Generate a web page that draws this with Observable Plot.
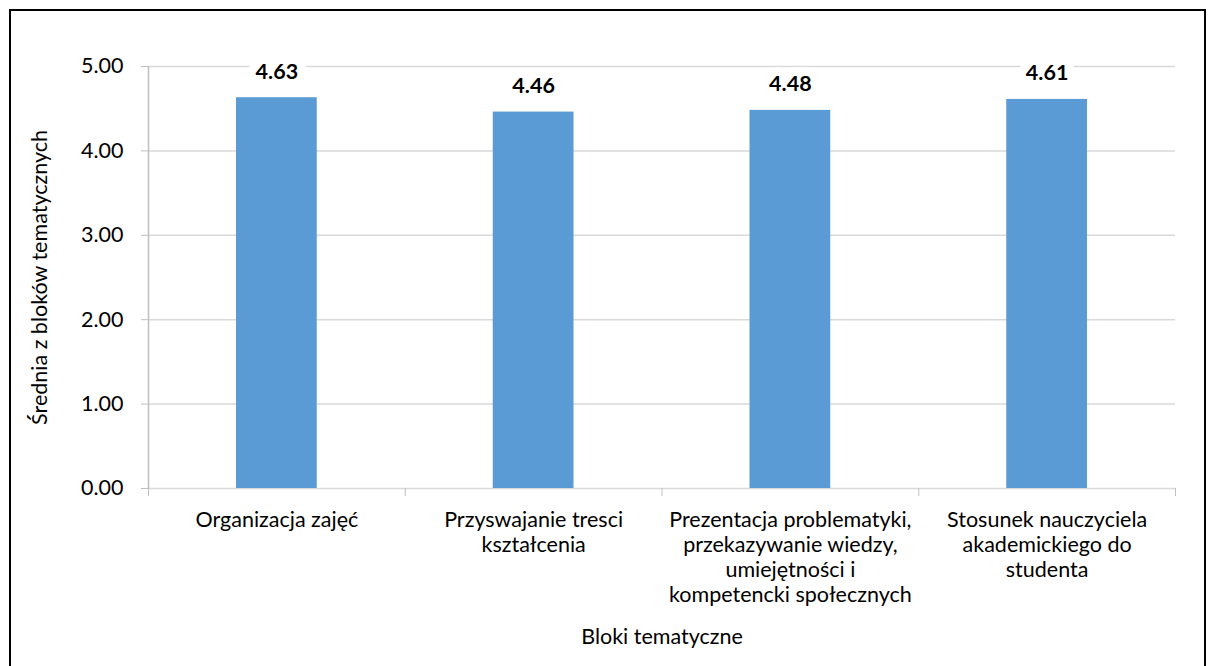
<!DOCTYPE html>
<html>
<head>
<meta charset="utf-8">
<script src="https://cdn.jsdelivr.net/npm/d3@7"></script>
<script src="https://cdn.jsdelivr.net/npm/@observablehq/plot@0.6"></script>
<style>
  html, body { margin: 0; padding: 0; background: #fff; }
  #wrap { position: relative; width: 1209px; height: 666px; overflow: hidden; }
  #frame { position: absolute; left: 9px; top: 9px; width: 1197px; height: 680px; border: 2px solid #000; box-sizing: border-box; }
  #chart { position: absolute; left: 0; top: 0; }
</style>
</head>
<body>
<div id="wrap"><div id="frame"></div><div id="chart"></div></div>
<script>
const categories = [
  "Organizacja zajęć",
  "Przyswajanie tresci\nkształcenia",
  "Prezentacja problematyki,\nprzekazywanie wiedzy,\numiejętności i\nkompetencki społecznych",
  "Stosunek nauczyciela\nakademickiego do\nstudenta"
];
const values = [4.63, 4.46, 4.48, 4.61];
const yTicks = [0, 1, 2, 3, 4, 5];
const yTitle = "Średnia z bloków tematycznych";
const xTitle = "Bloki tematyczne";

const data = categories.map((c, i) => ({cat: c, i, value: values[i]}));
const boundaries = d3.range(categories.length + 1);
const font = "Lato, 'Open Sans', sans-serif";
const fs = 21.5;

const chart = Plot.plot({
  width: 1209,
  height: 666,
  marginLeft: 148,
  marginRight: 34,
  marginTop: 66,
  marginBottom: 178,
  style: {fontFamily: font, fontSize: fs + "px", color: "#000", background: "transparent"},
  x: {type: "linear", domain: [0, categories.length]},
  y: {domain: [0, 5]},
  marks: [
    Plot.ruleY(yTicks, {stroke: "#d9d9d9", strokeWidth: 1.5}),
    Plot.ruleX([0], {stroke: "#bfbfbf", strokeWidth: 1.5}),
    Plot.axisY({ticks: yTicks, tickFormat: d3.format(".2f"), tickSize: 7, tickPadding: 18, stroke: "#bfbfbf", label: null, fontSize: fs}),
    Plot.axisX({ticks: boundaries, tickFormat: () => "", tickSize: 8, stroke: "#bfbfbf", label: null}),
    Plot.rectY(data, {x1: "i", x2: d => d.i + 1, y: "value", fill: "#5b9bd5", insetLeft: 88, insetRight: 88}),
    Plot.text(data, {x: d => d.i + 0.5, y: "value", text: d => d3.format(".2f")(d.value), dy: -26, fontWeight: "bold", fontSize: fs, fill: "#000", stroke: "white", strokeWidth: 18, paintOrder: "stroke"}),
    Plot.text(data, {x: d => d.i + 0.5, y: 0, text: "cat", lineAnchor: "top", dy: 21, lineHeight: 1.16, fontSize: fs, fill: "#000"}),
    Plot.text([xTitle], {frameAnchor: "bottom", dy: 155, text: d => d, fontSize: fs, fill: "#000"}),
    Plot.text([yTitle], {frameAnchor: "left", dx: -108, rotate: -90, textAnchor: "middle", text: d => d, fontSize: fs, fill: "#000"})
  ]
});
document.getElementById("chart").appendChild(chart);
</script>
</body>
</html>
